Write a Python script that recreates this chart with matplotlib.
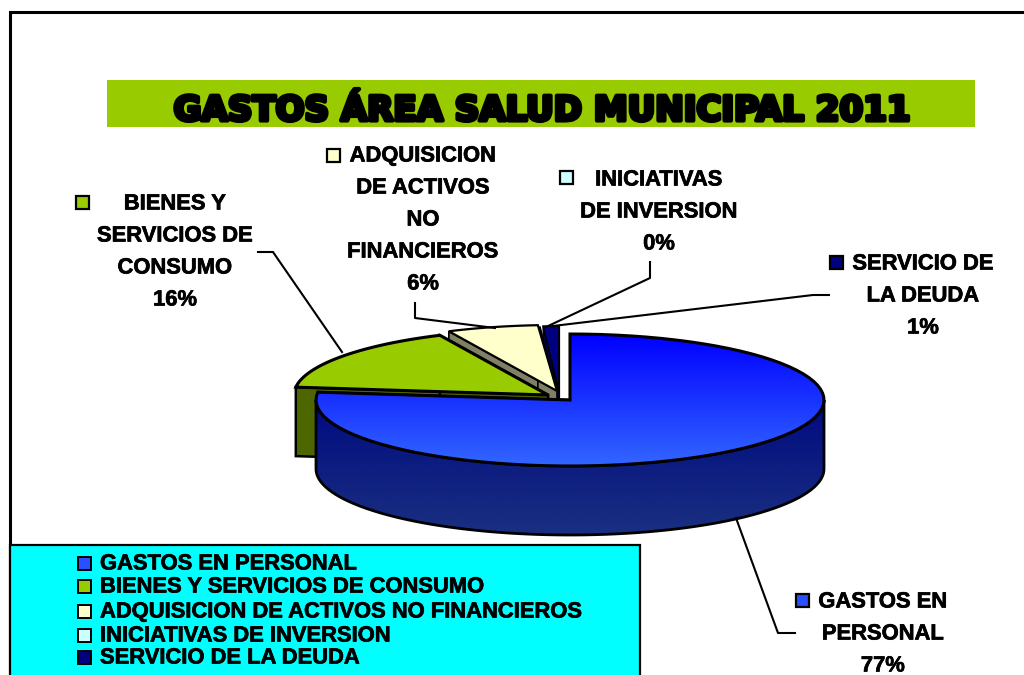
import numpy as np
import matplotlib
matplotlib.use("Agg")
import matplotlib.pyplot as plt
from matplotlib.colors import LinearSegmentedColormap
from matplotlib.patches import Polygon, Rectangle
import matplotlib.patheffects as pe

# ======================================
# DATA
# ======================================
title = "GASTOS ÁREA SALUD MUNICIPAL 2011"
categories = ["GASTOS EN PERSONAL", "BIENES Y SERVICIOS DE CONSUMO",
              "ADQUISICION DE ACTIVOS NO FINANCIEROS", "INICIATIVAS DE INVERSION",
              "SERVICIO DE LA DEUDA"]
values = [76.9, 16.1, 5.8, 0.2, 1.0]
label_lines = [["GASTOS EN", "PERSONAL"],
               ["BIENES Y", "SERVICIOS DE", "CONSUMO"],
               ["ADQUISICION", "DE ACTIVOS", "NO", "FINANCIEROS"],
               ["INICIATIVAS", "DE INVERSION"],
               ["SERVICIO DE", "LA DEUDA"]]

# ======================================
# STYLE / LAYOUT (pixels)
# ======================================
top_colors = ["#2850ff", "#99cc00", "#ffffcc", "#ccffff", "#000080"]
side_colors = ["#162c80", "#4d6600", "#808066", "#668080", "#000050"]
centers = [(570, 400), (548, 395), (557, 391), (556, 393), (559, 392)]
face_lw = [1.8, 1.8, 1.2, 0.8, 0.8]
RX, RY, DEPTH = 254, 66, 69

label_x = [883, 175, 423, 659, 923]
label_y = [602, 204, 156, 180, 264]
marker_xy = [(796, 594), (76, 196), (327, 149), (560, 171), (830, 256)]
leaders = [[(736, 518), (778, 633), (795, 633)],
           [(258, 252), (273, 252), (342, 352)],
           [(415, 303), (415, 318), (495, 328)],
           [(650, 262), (650, 278), (546, 327)],
           [(829, 295), (813, 295), (553, 326)]]
legend_y = [564, 587, 612, 636, 658]
LINE_H = 32
FONT = "Liberation Sans"
FS = 15.8
heavy = [pe.withStroke(linewidth=0.5, foreground="black")]

fig = plt.figure(figsize=(10.24, 6.75), dpi=100)
ax = fig.add_axes([0, 0, 1, 1])
ax.axis("off")


def arc(center, a0, a1, n=80, dy=0):
    # angles clockwise from 12 o'clock
    t = np.radians(np.linspace(a0, a1, n))
    return np.column_stack([center[0] + RX * np.sin(t), center[1] - RY * np.cos(t) + dy])


def gradient_fill(patch, c0, c1, y0, y1, zorder):
    cmap = LinearSegmentedColormap.from_list("g", [c0, c1])
    im = ax.imshow(np.linspace(0, 1, 200).reshape(-1, 1), cmap=cmap, aspect="auto",
                   extent=(250, 850, y1, y0), zorder=zorder)
    ax.add_patch(patch)
    im.set_clip_path(patch)


# frame
ax.plot([10, 10, 1024], [675, 12, 12], color="black", lw=2.2, zorder=1, solid_joinstyle="miter")

# title band
ax.add_patch(Rectangle((107, 80), 868, 47, fc="#99cc00", ec="none", zorder=2))
ax.text(542, 111, title, family="DejaVu Sans", weight="bold", fontsize=24.5, ha="center",
        va="center", color="black", zorder=3,
        path_effects=[pe.withStroke(linewidth=3, foreground="black")])

# ======================================
# PIE SLICES, BACK TO FRONT
# ======================================
bounds = np.concatenate([[0], np.cumsum(values) / np.sum(values) * 360])
z = 10
for i in [4, 3, 2, 1, 0]:
    a0, a1 = bounds[i], bounds[i + 1]
    c = centers[i]
    top = np.vstack([[c], arc(c, a0, a1)])

    # cut faces, then the outer wall where it faces the viewer
    for a in (a0, a1):
        p = arc(c, a, a, n=1)[0]
        quad = [c, p, (p[0], p[1] + DEPTH), (c[0], c[1] + DEPTH)]
        ax.add_patch(Polygon(quad, fc=side_colors[i], ec="black", lw=face_lw[i], zorder=z))
    w0, w1 = max(a0, 90), min(a1, 270)
    if w1 > w0:
        upper = arc(c, w0, w1)
        lower = arc(c, w0, w1, dy=DEPTH)[::-1]
        wall = Polygon(np.vstack([upper, lower]), fc="none", ec="black", lw=2, zorder=z + 2)
        if i == 0:
            gradient_fill(wall, "#000a80", "#1a3080", c[1], c[1] + RY + DEPTH, z + 1)
        else:
            wall.set_facecolor(side_colors[i])
            ax.add_patch(wall)

    face = Polygon(top, fc="none" if i == 0 else top_colors[i], ec="black", lw=face_lw[i] + 0.4,
                   zorder=z + 4, joinstyle="miter")
    if i == 0:
        gradient_fill(face, "#0000ff", "#3366ff", c[1] - RY, c[1] + RY, z + 3)
    else:
        ax.add_patch(face)
    z += 10

# ======================================
# DATA LABELS AND LEADER LINES
# ======================================
for i, lines in enumerate(label_lines):
    pct = f"{values[i] / np.sum(values) * 100:.0f}%"
    for k, line in enumerate(lines + [pct]):
        ax.text(label_x[i], label_y[i] + k * LINE_H, line, family=FONT, weight="bold", fontsize=FS,
                ha="center", va="center", color="black", zorder=70, path_effects=heavy)
    mx, my = marker_xy[i]
    ax.add_patch(Rectangle((mx, my), 13, 13, fc=top_colors[i], ec="black", lw=1.6, zorder=70))
    xs, ys = zip(*leaders[i])
    ax.plot(xs, ys, color="black", lw=1.5, zorder=65)

# ======================================
# LEGEND BOX
# ======================================
ax.add_patch(Rectangle((10, 545), 630, 135, fc="#00ffff", ec="black", lw=1.6, zorder=75))
for i, cat in enumerate(categories):
    ax.add_patch(Rectangle((78, legend_y[i] - 7), 13, 13, fc=top_colors[i], ec="black", lw=1.4,
                           zorder=76))
    ax.text(100, legend_y[i], cat, family=FONT, weight="bold", fontsize=FS, ha="left", va="center",
            color="black", zorder=76, path_effects=heavy)

ax.set_xlim(0, 1024)
ax.set_ylim(675, 0)
fig.savefig("out.png", dpi=100)
